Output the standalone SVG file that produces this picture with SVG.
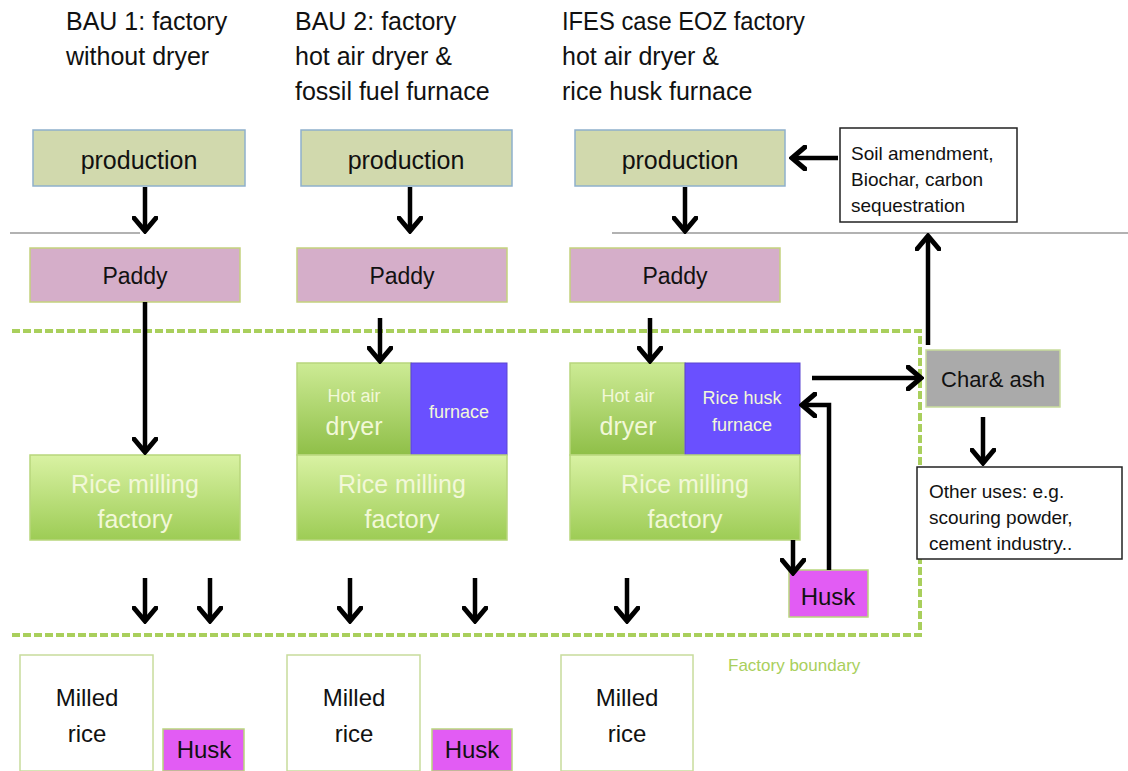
<svg xmlns="http://www.w3.org/2000/svg" width="1128" height="771" viewBox="0 0 1128 771">
<defs>
<linearGradient id="gmill" x1="0" y1="0" x2="0" y2="1"><stop offset="0" stop-color="#d9f2a3"/><stop offset="1" stop-color="#9dcc55"/></linearGradient>
<linearGradient id="gdry" x1="0" y1="0" x2="0" y2="1"><stop offset="0" stop-color="#cdeb95"/><stop offset="1" stop-color="#8fbf48"/></linearGradient>
<marker id="ah" viewBox="0 0 18 26" markerWidth="18" markerHeight="26" refX="15" refY="13" orient="auto" markerUnits="userSpaceOnUse">
<path d="M2,2 L15,13 L2,24" fill="none" stroke="#000" stroke-width="5" stroke-linecap="round" stroke-linejoin="miter"/>
</marker>
<style>
text{font-family:"Liberation Sans","DejaVu Sans",sans-serif;fill:#111}
.t{font-size:25px}
.prod{fill:#d1d9ad;stroke:#8eb0cc;stroke-width:1.5}
.paddy{fill:#d5aec9;stroke:#c4d27e;stroke-width:1.5}
.mill{fill:url(#gmill);stroke:#b8d67c;stroke-width:1.5}
.dry{fill:url(#gdry);stroke:#b8d67c;stroke-width:1.5}
.furn{fill:#6a50ff;stroke:#5a44d0;stroke-width:1}
.husk{fill:#e25cf4;stroke:#b8d67c;stroke-width:1.5}
.white{fill:#fff;stroke:#c8dc9c;stroke-width:1.5}
.box{fill:#fff;stroke:#222;stroke-width:1.5}
.wt{fill:#f2f8d8}
.c{text-anchor:middle}
.arr{fill:none;stroke:#000;stroke-width:4.5;marker-end:url(#ah)}
.bnd{fill:none;stroke:#a9cf5c;stroke-width:4;stroke-dasharray:8 3}
</style>
</defs>

<g id="titles">
<text class="t" x="66" y="30">BAU 1: factory</text>
<text class="t" x="66" y="65">without dryer</text>
<text class="t" x="295" y="30">BAU 2: factory</text>
<text class="t" x="295" y="65">hot air dryer &amp;</text>
<text class="t" x="295" y="100">fossil fuel furnace</text>
<text class="t" x="562" y="30" textLength="243" lengthAdjust="spacingAndGlyphs">IFES case EOZ factory</text>
<text class="t" x="562" y="65">hot air dryer &amp;</text>
<text class="t" x="562" y="100">rice husk furnace</text>
</g>

<g id="lines">
<line x1="10" y1="233" x2="140" y2="233" stroke="#666" stroke-width="1.2"/>
<line x1="612" y1="233" x2="1128" y2="233" stroke="#666" stroke-width="1.2"/>
<path class="bnd" d="M12,331 H920 V635 H12"/>
<text x="728" y="671" style="font-size:17px;fill:#a9cf5c">Factory boundary</text>
</g>

<g id="production1"><rect class="prod" x="33" y="130" width="212" height="56"/><text class="c" x="139" y="169" style="font-size:25px">production</text></g>
<g id="production2"><rect class="prod" x="301" y="130" width="211" height="56"/><text class="c" x="406" y="169" style="font-size:25px">production</text></g>
<g id="production3"><rect class="prod" x="575" y="130" width="210" height="56"/><text class="c" x="680" y="169" style="font-size:25px">production</text></g>

<g id="soil"><rect class="box" x="840" y="128" width="177" height="94"/>
<text x="851" y="160" style="font-size:19px">Soil amendment,</text>
<text x="851" y="186" style="font-size:19px">Biochar, carbon</text>
<text x="851" y="212" style="font-size:19px">sequestration</text></g>

<g id="paddy1"><rect class="paddy" x="30" y="248" width="210" height="54"/><text class="c" x="135" y="284" style="font-size:23px">Paddy</text></g>
<g id="paddy2"><rect class="paddy" x="297" y="248" width="210" height="54"/><text class="c" x="402" y="284" style="font-size:23px">Paddy</text></g>
<g id="paddy3"><rect class="paddy" x="570" y="248" width="210" height="54"/><text class="c" x="675" y="284" style="font-size:23px">Paddy</text></g>

<g id="mill1"><rect class="mill" x="30" y="455" width="210" height="85"/>
<text class="c wt" x="135" y="493" style="font-size:25px">Rice milling</text>
<text class="c wt" x="135" y="528" style="font-size:25px">factory</text></g>

<g id="dryer2"><rect class="dry" x="297" y="363" width="114" height="92"/>
<text class="c wt" x="354" y="402" style="font-size:18px">Hot  air</text>
<text class="c wt" x="354" y="435" style="font-size:25px">dryer</text></g>
<g id="furnace2"><rect class="furn" x="411" y="363" width="96" height="92"/>
<text class="c wt" x="459" y="418" style="font-size:18px">furnace</text></g>
<g id="mill2"><rect class="mill" x="297" y="455" width="210" height="85"/>
<text class="c wt" x="402" y="493" style="font-size:25px">Rice milling</text>
<text class="c wt" x="402" y="528" style="font-size:25px">factory</text></g>

<g id="dryer3"><rect class="dry" x="570" y="363" width="115" height="92"/>
<text class="c wt" x="628" y="402" style="font-size:18px">Hot  air</text>
<text class="c wt" x="628" y="435" style="font-size:25px">dryer</text></g>
<g id="furnace3"><rect class="furn" x="685" y="363" width="115" height="92"/>
<text class="c wt" x="742" y="404" style="font-size:18px">Rice husk</text>
<text class="c wt" x="742" y="431" style="font-size:18px">furnace</text></g>
<g id="mill3"><rect class="mill" x="570" y="455" width="230" height="85"/>
<text class="c wt" x="685" y="493" style="font-size:25px">Rice milling</text>
<text class="c wt" x="685" y="528" style="font-size:25px">factory</text></g>

<g id="husk3"><rect class="husk" x="789" y="570" width="79" height="47"/><text class="c" x="828" y="605" style="font-size:24px">Husk</text></g>

<g id="char"><rect x="926" y="350" width="134" height="57" fill="#aaaaaa" stroke="#c8dc9c" stroke-width="1.5"/><text class="c" x="993" y="387" style="font-size:22px">Char&amp; ash</text></g>

<g id="otheruses"><rect class="box" x="917" y="467" width="205" height="92"/>
<text x="929" y="498" style="font-size:19px">Other uses: e.g.</text>
<text x="929" y="524" style="font-size:19px">scouring powder,</text>
<text x="929" y="550" style="font-size:19px">cement industry..</text></g>

<g id="milled1"><rect class="white" x="20" y="655" width="133" height="116"/>
<text class="c" x="87" y="706" style="font-size:24px">Milled</text>
<text class="c" x="87" y="742" style="font-size:24px">rice</text></g>
<g id="husk1"><rect class="husk" x="163" y="729" width="81" height="42"/><text class="c" x="204" y="758" style="font-size:24px">Husk</text></g>
<g id="milled2"><rect class="white" x="287" y="655" width="133" height="116"/>
<text class="c" x="354" y="706" style="font-size:24px">Milled</text>
<text class="c" x="354" y="742" style="font-size:24px">rice</text></g>
<g id="husk2"><rect class="husk" x="432" y="729" width="80" height="42"/><text class="c" x="472" y="758" style="font-size:24px">Husk</text></g>
<g id="milled3"><rect class="white" x="561" y="655" width="132" height="116"/>
<text class="c" x="627" y="706" style="font-size:24px">Milled</text>
<text class="c" x="627" y="742" style="font-size:24px">rice</text></g>

<g id="connectors">
<line class="arr" x1="145" y1="187" x2="145" y2="231"/>
<line class="arr" x1="410" y1="187" x2="410" y2="231"/>
<line class="arr" x1="685" y1="187" x2="685" y2="231"/>
<line class="arr" x1="838" y1="158" x2="792" y2="158"/>
<line class="arr" x1="145" y1="302" x2="145" y2="452"/>
<line class="arr" x1="380" y1="318" x2="380" y2="361"/>
<line class="arr" x1="650" y1="318" x2="650" y2="361"/>
<line class="arr" x1="812" y1="378" x2="921" y2="378"/>
<line class="arr" x1="928" y1="345" x2="928" y2="236"/>
<line class="arr" x1="983" y1="417" x2="983" y2="463"/>
<line class="arr" x1="793" y1="540" x2="793" y2="573"/>
<polyline class="arr" points="829,570 829,405 802,405"/>
<line class="arr" x1="145" y1="578" x2="145" y2="621"/>
<line class="arr" x1="210" y1="578" x2="210" y2="621"/>
<line class="arr" x1="350" y1="578" x2="350" y2="621"/>
<line class="arr" x1="475" y1="578" x2="475" y2="621"/>
<line class="arr" x1="627" y1="578" x2="627" y2="621"/>
</g>
</svg>
